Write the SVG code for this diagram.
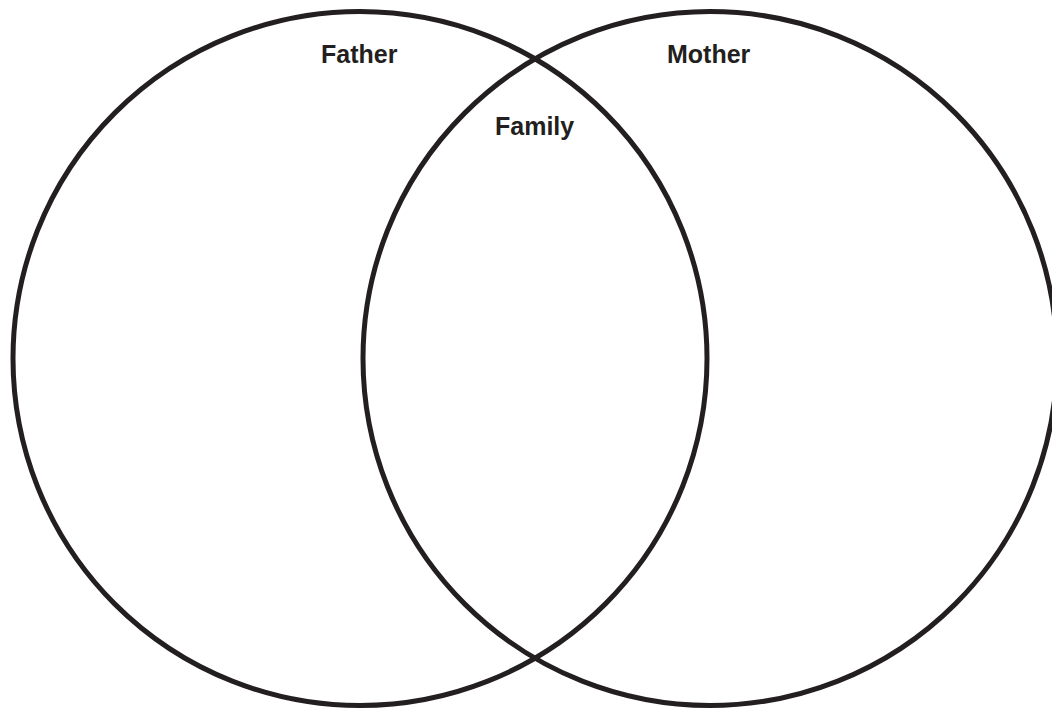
<svg xmlns="http://www.w3.org/2000/svg" width="1052" height="709" viewBox="0 0 1052 709">
<style>
.c{fill:none;stroke:#231f20;stroke-width:5}
.t{font-family:"Liberation Sans",Arial,sans-serif;font-weight:bold;font-size:25px;fill:#231f20}
</style>
<rect width="1052" height="709" fill="#fff"/>
<g id="father"><circle class="c" cx="360" cy="358.5" r="347"/><text class="t" x="321" y="62.5">Father</text></g>
<g id="mother"><circle class="c" cx="710" cy="358.5" r="347"/><text class="t" x="667" y="62.5">Mother</text></g>
<g id="family"><text class="t" x="495" y="135">Family</text></g>
</svg>
